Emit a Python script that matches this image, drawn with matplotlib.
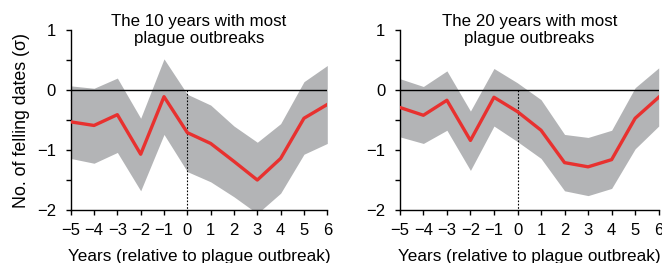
import numpy as np
import matplotlib.pyplot as plt

plt.rcParams['font.family'] = ['Liberation Sans', 'DejaVu Sans']

years = [-5, -4, -3, -2, -1, 0, 1, 2, 3, 4, 5, 6]

# The 10 years with most plague outbreaks
mean_10 = [-0.53, -0.59, -0.41, -1.07, -0.11, -0.71, -0.89, -1.19, -1.50, -1.14, -0.47, -0.24]
upper_10 = [0.07, 0.03, 0.20, -0.47, 0.52, -0.07, -0.25, -0.60, -0.87, -0.56, 0.14, 0.41]
lower_10 = [-1.14, -1.22, -1.04, -1.68, -0.74, -1.36, -1.53, -1.78, -2.06, -1.72, -1.07, -0.89]

# The 20 years with most plague outbreaks
mean_20 = [-0.29, -0.42, -0.17, -0.84, -0.12, -0.36, -0.67, -1.21, -1.28, -1.16, -0.47, -0.12]
upper_20 = [0.19, 0.06, 0.32, -0.35, 0.36, 0.12, -0.16, -0.74, -0.79, -0.67, 0.04, 0.37]
lower_20 = [-0.78, -0.89, -0.67, -1.34, -0.60, -0.86, -1.14, -1.68, -1.76, -1.64, -0.98, -0.60]

titles = ['The 10 years with most\nplague outbreaks',
          'The 20 years with most\nplague outbreaks']


def draw_panel(ax, mean, upper, lower, title, ylabel=None):
    ax.fill_between(years, lower, upper, color='#b3b4b6', lw=0, zorder=1)
    ax.axhline(0, color='black', lw=1.0, zorder=2)
    ax.plot([0, 0], [0, -2], color='black', lw=0.8, ls=(0, (1.5, 1.5)), zorder=2)
    ax.plot(years, mean, color='#e8312f', lw=2.4, zorder=3)
    ax.set_xlim(-5, 6)
    ax.set_ylim(-2, 1)
    ax.set_xticks(years)
    ax.set_yticks([-2, -1, 0, 1])
    ax.set_yticks([-1.5, -0.5, 0.5], minor=True)
    ax.tick_params(axis='both', direction='out', length=3.5, width=1, labelsize=12)
    ax.tick_params(axis='x', pad=5.5)
    ax.tick_params(axis='y', pad=7)
    ax.tick_params(axis='y', which='minor', direction='out', length=3.5, width=1)
    for side in ('top', 'right'):
        ax.spines[side].set_visible(False)
    for side in ('left', 'bottom'):
        ax.spines[side].set_linewidth(1.0)
    ax.set_xlabel('Years (relative to plague outbreak)', fontsize=12.3, labelpad=8.5)
    if ylabel:
        ax.set_ylabel(ylabel, fontsize=12.8, labelpad=5)
    ax.text(0.5, 1.0, title, transform=ax.transAxes, ha='center', va='center',
            fontsize=12.2, linespacing=1.2)


fig = plt.figure(figsize=(6.62, 2.63), dpi=100)
ax1 = fig.add_axes([0.1068, 0.2015, 0.3876, 0.684])
ax2 = fig.add_axes([0.604, 0.2015, 0.391, 0.684])
draw_panel(ax1, mean_10, upper_10, lower_10, titles[0], 'No. of felling dates (σ)')
draw_panel(ax2, mean_20, upper_20, lower_20, titles[1])

fig.savefig('out.png', dpi=100)
